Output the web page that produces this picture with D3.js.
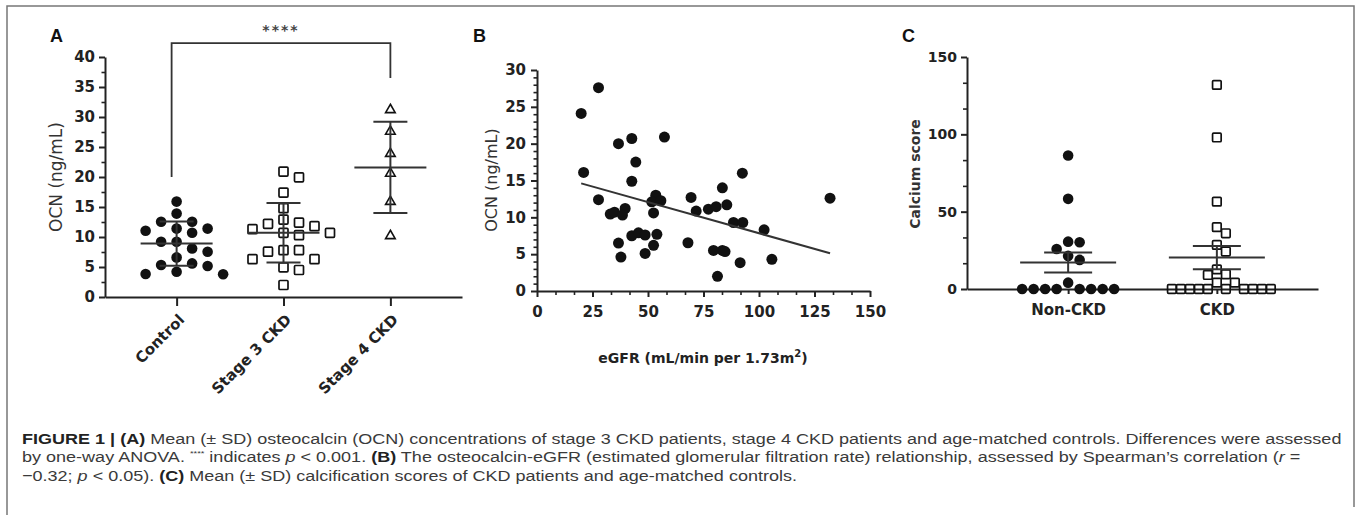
<!DOCTYPE html>
<html>
<head>
<meta charset="utf-8">
<script src="https://cdn.jsdelivr.net/npm/d3@7"></script>
<style>body{margin:0;background:#fff}</style>
</head>
<body>
<script>
var W = 1357, H = 515;
var ink = "#222";

// ---- panel A data: OCN by group ----
var groupsA = ["Control", "Stage 3 CKD", "Stage 4 CKD"];
var controlOCN = [15.9, 13.9, 12.55, 12.55, 11.4, 11.4, 11.05, 10.7, 9.2, 9.2, 8.1, 7.55, 6.6, 5.6, 5.33, 5.17, 4.2, 3.83, 3.8];
var stage3OCN = [20.9, 19.95, 17.4, 14.8, 12.9, 12.4, 12.2, 11.8, 11.3, 10.7, 10.7, 10.3, 7.8, 7.8, 7.55, 6.3, 6.3, 4.95, 4.5, 2.0];
var stage4OCN = [31.2, 27.6, 23.9, 20.6, 15.9, 10.2];
var meanA = [8.9, 10.7, 21.6];
var sdA = [3.7, 4.95, 7.6];
var yTicksA = [0, 5, 10, 15, 20, 25, 30, 35, 40];
var bracketA = { from: "Control", to: "Stage 4 CKD", top: 42.3, leftEnd: 20, rightEnd: 36.5, label: "****" };

// ---- panel B data: OCN vs eGFR ----
var egfr = [19.9, 27.7, 21, 36.7, 42.7, 44.5, 57.4, 42.7, 83.5, 92.5, 132, 27.7, 33, 34.9, 39.7, 38.5,
  36.7, 37.8, 42.7, 45.7, 48.7, 48.7, 52.5, 52.5, 53.5, 51.7, 55.8, 54, 69.4, 68, 71.7, 77.2, 80.7,
  85.5, 88.5, 92.7, 102.3, 83.5, 84.7, 79.5, 81.3, 91.5, 105.8];
var ocnB = [24.1, 27.6, 16.1, 20.0, 20.7, 17.5, 20.9, 14.9, 14.0, 16.0, 12.6, 12.4, 10.45, 10.7, 11.2, 10.3,
  6.5, 4.6, 7.5, 7.9, 7.6, 5.1, 6.2, 10.6, 13.0, 12.1, 12.25, 7.7, 12.7, 6.55, 10.85, 11.1, 11.45,
  11.7, 9.3, 9.3, 8.3, 5.5, 5.35, 5.5, 2.0, 3.85, 4.3];
var fitSlope = -0.0845, fitIntercept = 16.29;
var xTicksB = [0, 25, 50, 75, 100, 125, 150];
var yTicksB = [0, 5, 10, 15, 20, 25, 30];

// ---- panel C data: calcium score ----
var groupsC = ["Non-CKD", "CKD"];
var nonCkdScore = [86.3, 58.3, 30.6, 30.2, 25.9, 21.4, 18.8, 4.1, 0, 0, 0, 0, 0, 0, 0, 0];
var ckdScore = [132, 98, 56.5, 40, 36, 28.5, 24.2, 12.7, 9.5, 9.1, 4.1, 4.1, 0, 0, 0, 0, 0, 0, 0, 0, 0, 0];
var meanC = [17.1, 20.3];
var errC = [6.45, 7.45];
var yTicksC = [0, 50, 100, 150];

var svg = d3.select("body").append("svg")
  .attr("width", W).attr("height", H)
  .style("background", "#fff");

// figure frame
svg.append("path")
  .attr("d", "M7,515V6H1354V507")
  .attr("fill", "none").attr("stroke", "#777").attr("stroke-width", 1.5);

// simple GraphPad-like scatter spread: nearest free slot to the centre
function swarm(values, y, step, diam) {
  var order = d3.range(values.length).sort(function(a, b) { return d3.descending(values[a], values[b]); });
  var placed = [], off = [];
  order.forEach(function(i) {
    var py = y(values[i]);
    for (var k = 0; k < 50; k++) {
      var cands = k === 0 ? [0] : [k * step, -k * step];
      var ok = cands.find(function(dx) {
        return placed.every(function(p) { return Math.hypot(p.x - dx, p.y - py) >= diam; });
      });
      if (ok !== undefined) { off[i] = ok; placed.push({ x: ok, y: py }); break; }
    }
  });
  return off;
}

function styleAxis(g, fs) {
  g.attr("color", ink);
  g.selectAll("path, line").attr("stroke-width", 2);
  g.selectAll("text").style("font", "bold " + fs + "px 'DejaVu Sans'").attr("fill", ink);
}
function minorAxis(g, axis) {
  g.call(axis);
  g.select(".domain").remove();
  g.attr("color", ink).selectAll("line").attr("stroke-width", 1.6);
}
function panelLetter(x, t) {
  svg.append("text").attr("x", x).attr("y", 42).text(t)
    .style("font", "bold 18px 'Liberation Sans'").attr("fill", "#111");
}
function yLabel(x, y, t, font) {
  svg.append("text").attr("transform", "translate(" + x + "," + y + ") rotate(-90)")
    .attr("text-anchor", "middle").attr("dy", "0.35em").text(t)
    .style("font", font).attr("fill", "#333");
}
function meanBar(g, cx, y, m, e, half, cap) {
  g.append("line").attr("x1", cx - half).attr("x2", cx + half).attr("y1", y(m)).attr("y2", y(m));
  g.append("line").attr("x1", cx).attr("x2", cx).attr("y1", y(m - e)).attr("y2", y(m + e));
  g.append("line").attr("x1", cx - cap).attr("x2", cx + cap).attr("y1", y(m + e)).attr("y2", y(m + e));
  g.append("line").attr("x1", cx - cap).attr("x2", cx + cap).attr("y1", y(m - e)).attr("y2", y(m - e));
  g.selectAll("line").attr("stroke", "#333").attr("stroke-width", 2);
}

// ================= Panel A =================
var yA = d3.scaleLinear().domain([0, 40]).range([297, 57]);
var xA = d3.scalePoint().domain(groupsA).range([105, 462]).padding(0.67);
var gA = svg.append("g");

gA.append("g").attr("transform", "translate(105,0)")
  .call(minorAxis, d3.axisLeft(yA).tickValues(d3.range(2.5, 40, 5)).tickSize(3.5).tickFormat(""));
gA.append("g").attr("transform", "translate(105,0)")
  .call(d3.axisLeft(yA).tickValues(yTicksA).tickSize(6).tickSizeOuter(0).tickPadding(4))
  .call(styleAxis, 15);
gA.append("g").attr("transform", "translate(0,297)")
  .call(d3.axisBottom(xA).tickSize(9).tickSizeOuter(0).tickFormat(""))
  .call(styleAxis, 15);
groupsA.forEach(function(c) {
  gA.append("text")
    .attr("transform", "translate(" + (xA(c) + 5) + ",317) rotate(-45)")
    .attr("text-anchor", "end").attr("dy", "0.35em").text(c)
    .style("font", "bold 15px 'DejaVu Sans'").attr("fill", ink);
});
yLabel(56, 177, "OCN (ng/mL)", "17px 'DejaVu Sans'");
panelLetter(50, "A");

// points
var offC = swarm(controlOCN, yA, 15.5, 11);
gA.append("g").selectAll("circle").data(controlOCN).join("circle")
  .attr("cx", function(d, i) { return xA("Control") + offC[i]; })
  .attr("cy", function(d) { return yA(d); })
  .attr("r", 5.3).attr("fill", "#111");

var off3 = swarm(stage3OCN, yA, 15.5, 10.5);
gA.append("g").selectAll("rect").data(stage3OCN).join("rect")
  .attr("x", function(d, i) { return xA("Stage 3 CKD") + off3[i] - 4.5; })
  .attr("y", function(d) { return yA(d) - 4.5; })
  .attr("width", 9).attr("height", 9).attr("rx", 1)
  .attr("fill", "none").attr("stroke", "#111").attr("stroke-width", 1.7);

var off4 = swarm(stage4OCN, yA, 15.5, 10.5);
gA.append("g").selectAll("path").data(stage4OCN).join("path")
  .attr("d", d3.symbol(d3.symbolTriangle, 40))
  .attr("transform", function(d, i) { return "translate(" + (xA("Stage 4 CKD") + off4[i]) + "," + yA(d) + ")"; })
  .attr("fill", "none").attr("stroke", "#111").attr("stroke-width", 1.6);

groupsA.forEach(function(c, i) { meanBar(gA.append("g"), xA(c), yA, meanA[i], sdA[i], 36, 17); });

// significance bracket
var bx1 = xA(bracketA.from) - 5, bx2 = xA(bracketA.to);
gA.append("path")
  .attr("d", "M" + bx1 + "," + yA(bracketA.leftEnd) + "V" + yA(bracketA.top) + "H" + bx2 + "V" + yA(bracketA.rightEnd))
  .attr("fill", "none").attr("stroke", "#333").attr("stroke-width", 1.8);
gA.append("text").attr("x", (bx1 + bx2) / 2).attr("y", 35).attr("text-anchor", "middle")
  .attr("letter-spacing", 2).text(bracketA.label)
  .style("font", "bold 14px 'DejaVu Sans'").attr("fill", "#444");

// ================= Panel B =================
var xB = d3.scaleLinear().domain([0, 150]).range([537, 870]);
var yB = d3.scaleLinear().domain([0, 30]).range([291, 70]);
var gB = svg.append("g");

gB.append("g").attr("transform", "translate(537,0)")
  .call(minorAxis, d3.axisLeft(yB).tickValues(d3.range(0, 30, 1).filter(function(v) { return v % 5; })).tickSize(3.5).tickFormat(""));
gB.append("g").attr("transform", "translate(0,291)")
  .call(minorAxis, d3.axisBottom(xB).tickValues(d3.range(0, 150, 25 / 3).filter(function(v, i) { return i % 3; })).tickSize(4).tickFormat(""));
gB.append("g").attr("transform", "translate(537,0)")
  .call(d3.axisLeft(yB).tickValues(yTicksB).tickSize(6).tickSizeOuter(0).tickPadding(5))
  .call(styleAxis, 15);
gB.append("g").attr("transform", "translate(0,291)")
  .call(d3.axisBottom(xB).tickValues(xTicksB).tickSize(6).tickSizeOuter(0).tickPadding(9))
  .call(styleAxis, 15);

var bxl = gB.append("text").attr("x", 703).attr("y", 363).attr("text-anchor", "middle")
  .style("font", "bold 14px 'DejaVu Sans'").attr("fill", ink);
bxl.append("tspan").text("eGFR (mL/min per 1.73m");
bxl.append("tspan").attr("dy", -6).style("font-size", "10px").text("2");
bxl.append("tspan").attr("dy", 6).text(")");
yLabel(491, 180, "OCN (ng/mL)", "16px 'DejaVu Sans'");
panelLetter(473, "B");

gB.append("g").selectAll("circle").data(egfr).join("circle")
  .attr("cx", function(d) { return xB(d); })
  .attr("cy", function(d, i) { return yB(ocnB[i]); })
  .attr("r", 5.5).attr("fill", "#111");

var fx = d3.extent(egfr);
gB.append("line")
  .attr("x1", xB(fx[0])).attr("y1", yB(fitIntercept + fitSlope * fx[0]))
  .attr("x2", xB(fx[1])).attr("y2", yB(fitIntercept + fitSlope * fx[1]))
  .attr("stroke", "#333").attr("stroke-width", 2);

// ================= Panel C =================
var yC = d3.scaleLinear().domain([0, 150]).range([289, 57]);
var xC = d3.scalePoint().domain(groupsC).range([967, 1318]).padding(0.68);
var gC = svg.append("g");

gC.append("g").attr("transform", "translate(967,0)")
  .call(minorAxis, d3.axisLeft(yC).tickValues(d3.range(0, 150, 50 / 3).filter(function(v, i) { return i % 3; })).tickSize(4).tickFormat(""));
gC.append("g").attr("transform", "translate(967,0)")
  .call(d3.axisLeft(yC).tickValues(yTicksC).tickSize(6).tickSizeOuter(0).tickPadding(4))
  .call(styleAxis, 14);
gC.append("g").attr("transform", "translate(0,289)")
  .call(d3.axisBottom(xC).tickSize(5).tickSizeOuter(0).tickPadding(10))
  .call(styleAxis, 15);
yLabel(915, 174, "Calcium score", "bold 14px 'DejaVu Sans'");
panelLetter(902, "C");

var offN = swarm(nonCkdScore, yC, 11.5, 10.5);
gC.append("g").selectAll("circle").data(nonCkdScore).join("circle")
  .attr("cx", function(d, i) { return xC("Non-CKD") + offN[i]; })
  .attr("cy", function(d) { return yC(d); })
  .attr("r", 5.3).attr("fill", "#111");

var offK = swarm(ckdScore, yC, 9, 8.5);
gC.append("g").selectAll("rect").data(ckdScore).join("rect")
  .attr("x", function(d, i) { return xC("CKD") + offK[i] - 4.3; })
  .attr("y", function(d) { return yC(d) - 4.3; })
  .attr("width", 8.6).attr("height", 8.6).attr("rx", 1)
  .attr("fill", "none").attr("stroke", "#111").attr("stroke-width", 1.7);

groupsC.forEach(function(c, i) { meanBar(gC.append("g"), xC(c), yC, meanC[i], errC[i], 48, 24); });

// ================= Caption =================
var captionLines = [
  [["FIGURE 1 | (A)", "b"], [" Mean (\u00b1 SD) osteocalcin (OCN) concentrations of stage 3 CKD patients, stage 4 CKD patients and age-matched controls. Differences were assessed", ""]],
  [["by one-way ANOVA. ", ""], ["****", "sup"], [" indicates ", ""], ["p", "i"], [" < 0.001. ", ""], ["(B)", "b"],
   [" The osteocalcin-eGFR (estimated glomerular filtration rate) relationship, assessed by Spearman\u2019s correlation (", ""], ["r", "i"], [" =", ""]],
  [["\u22120.32; ", ""], ["p", "i"], [" < 0.05). ", ""], ["(C)", "b"], [" Mean (\u00b1 SD) calcification scores of CKD patients and age-matched controls.", ""]]
];
var cap = svg.append("g").attr("transform", "translate(22,0)");
var capNodes = captionLines.map(function(parts, li) {
  var t = cap.append("text").attr("x", 0).attr("y", 444 + li * 18.5)
    .style("font", "15.5px 'Liberation Sans'").attr("fill", "#3a3a3a");
  var lift = 0;
  parts.forEach(function(p) {
    var ts = t.append("tspan").text(p[0]);
    if (p[1] === "b") ts.style("font-weight", "bold").attr("fill", "#222");
    if (p[1] === "i") ts.style("font-style", "italic");
    if (lift) { ts.attr("dy", lift); lift = 0; }
    if (p[1] === "sup") { ts.attr("dy", -6).style("font-size", "8px"); lift = 6; }
  });
  return t.node();
});
var sx = 1321 / capNodes[0].getComputedTextLength();
cap.attr("transform", "translate(22,0) scale(" + sx + ",1)");
</script>
</body>
</html>
